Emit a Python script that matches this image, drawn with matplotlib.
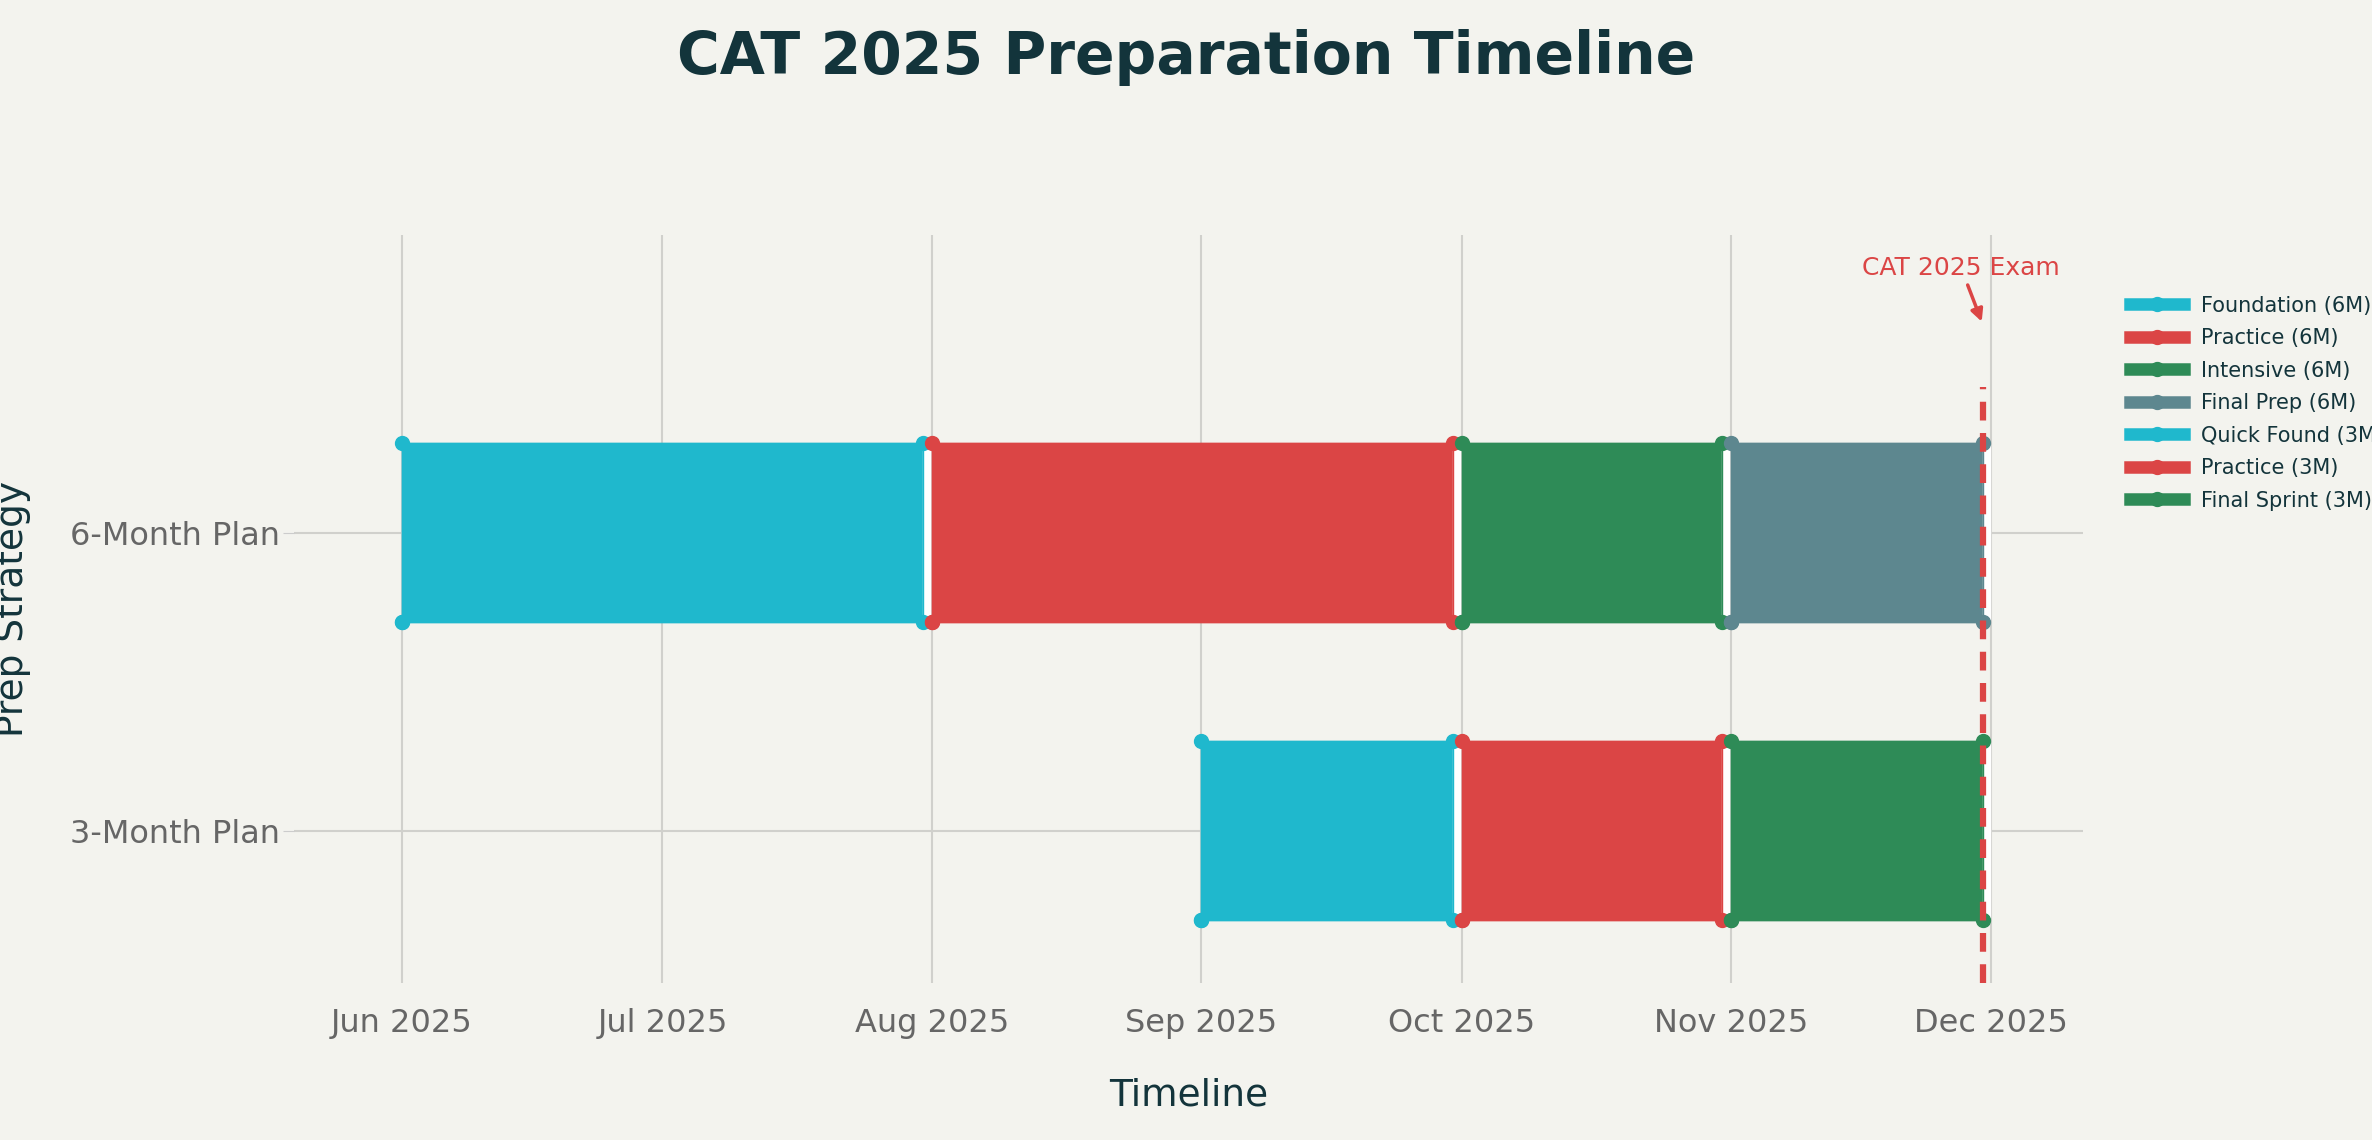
import matplotlib
matplotlib.use("Agg")
import matplotlib.pyplot as plt
import matplotlib.dates as mdates
from matplotlib.lines import Line2D
from datetime import datetime, timedelta

plans = ["3-Month Plan", "6-Month Plan"]
phase_names = ["Foundation (6M)", "Practice (6M)", "Intensive (6M)", "Final Prep (6M)",
               "Quick Found (3M)", "Practice (3M)", "Final Sprint (3M)"]
phase_plan = ["6-Month Plan"] * 4 + ["3-Month Plan"] * 3
phase_start = ["2025-06-01", "2025-08-01", "2025-10-01", "2025-11-01",
               "2025-09-01", "2025-10-01", "2025-11-01"]
phase_end = ["2025-07-31", "2025-09-30", "2025-10-31", "2025-11-30",
             "2025-09-30", "2025-10-31", "2025-11-30"]
phase_colors = ["#1FB8CD", "#DB4545", "#2E8B57", "#5D878F", "#1FB8CD", "#DB4545", "#2E8B57"]
exam_date = "2025-11-30"
tick_dates = ["2025-06-01", "2025-07-01", "2025-08-01", "2025-09-01",
              "2025-10-01", "2025-11-01", "2025-12-01"]
tick_labels = ["Jun 2025", "Jul 2025", "Aug 2025", "Sep 2025", "Oct 2025", "Nov 2025", "Dec 2025"]

bg = "#F3F3EE"
fig = plt.figure(figsize=(23.72, 11.4), dpi=100, facecolor=bg)
ax = fig.add_axes([0.124, 0.138, 0.754, 0.656], facecolor=bg)

d = lambda s: datetime.strptime(s, "%Y-%m-%d")
half = 0.3
handles = []
for name, plan, s, e, c in zip(phase_names, phase_plan, phase_start, phase_end, phase_colors):
    y = plans.index(plan)
    xs = [d(s), d(e), d(e), d(s), d(s)]
    ys = [y - half, y - half, y + half, y + half, y - half]
    ax.fill(mdates.date2num(xs), ys, color=c, zorder=3)
    ax.plot(mdates.date2num(xs), ys, color=c, lw=1, marker="o", ms=10, zorder=4)
    ax.plot(mdates.date2num([d(e) + timedelta(hours=12)] * 2), [y - half + 0.02, y + half - 0.02],
            color="white", lw=6, zorder=3.5)
    handles.append(Line2D([0], [0], color=c, lw=9, marker="o", ms=10, label=name))

ex = mdates.date2num(d(exam_date))
ax.plot([ex, ex], [-0.51, 1.49], color="#DB4545", lw=4.5, ls=(0, (3, 2)), zorder=5)
ax.annotate("CAT 2025 Exam", xy=(ex, 1.7), xytext=(ex - 2.5, 1.89), color="#DB4545",
            fontsize=18, ha="center", va="center",
            arrowprops=dict(arrowstyle="-|>", color="#DB4545", lw=2.5, mutation_scale=18))

ax.set_xlim(mdates.date2num(d("2025-06-01") - timedelta(days=12.4)),
            mdates.date2num(d("2025-12-01") + timedelta(days=10.5)))
ax.set_ylim(-0.51, 2.0)
ax.set_yticks([0, 1])
ax.set_yticklabels(plans, fontsize=23, color="#666666")
ax.set_xticks(mdates.date2num([d(t) for t in tick_dates]))
ax.set_xticklabels(tick_labels, fontsize=23, color="#666666")
ax.tick_params(axis="x", length=0, pad=18)
ax.tick_params(axis="y", length=8, color="#cccccc", pad=2)
ax.grid(True, color="#d0d0cc", lw=1.5, zorder=0)
for sp in ax.spines.values():
    sp.set_visible(False)
ax.set_xlabel("Timeline", fontsize=27, color="#13343B", labelpad=28)
ax.set_ylabel("Prep Strategy", fontsize=27, color="#13343B")
ax.yaxis.set_label_coords(-0.147, 0.5)
fig.suptitle("CAT 2025 Preparation Timeline", fontsize=42, fontweight="bold",
             color="#13343B", y=0.975)
fig.legend(handles=handles, loc="upper left", bbox_to_anchor=(0.89, 0.757), frameon=False,
           fontsize=15, labelcolor="#13343B", handlelength=2.6, labelspacing=0.6)
fig.savefig("out.png", dpi=100, facecolor=bg)
